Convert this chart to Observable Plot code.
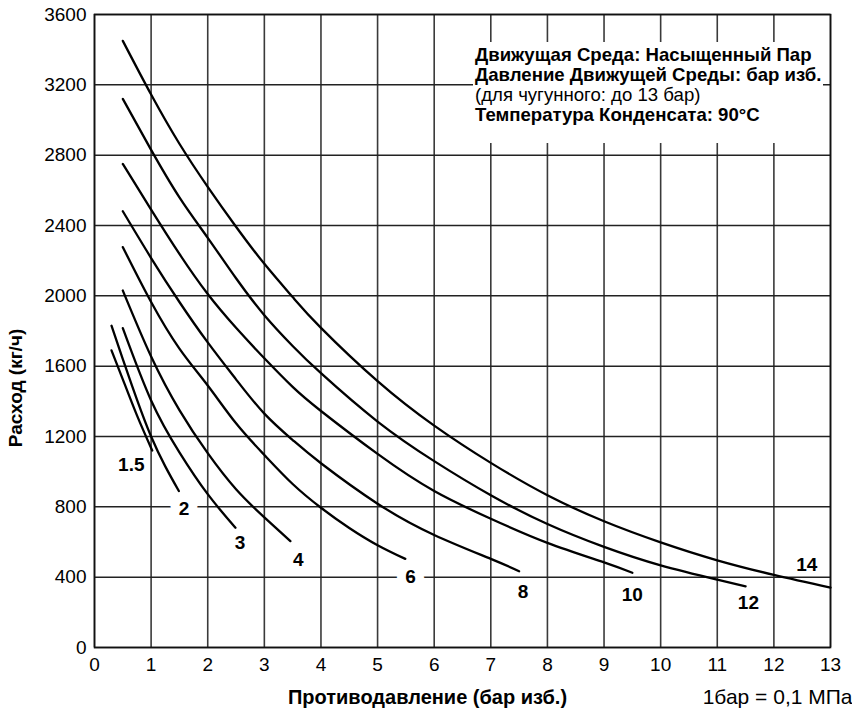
<!DOCTYPE html>
<html>
<head>
<meta charset="utf-8">
<script src="https://cdn.jsdelivr.net/npm/d3@7"></script>
<script src="https://cdn.jsdelivr.net/npm/@observablehq/plot@0.6"></script>
<style>
  html, body { margin: 0; padding: 0; background: #fff; }
  #wrap { position: relative; width: 852px; height: 716px; font-family: "Liberation Sans", Arial, sans-serif; }
  #note { position: absolute; left: 473px; top: 42px; width: 350px; height: 101px; background: #fff;
          box-sizing: border-box; padding: 3px 0 0 2px; font-size: 18.6px; line-height: 20px; color: #000; white-space: nowrap; }
  #note b { font-weight: bold; }
</style>
</head>
<body>
<div id="wrap">
  <div id="note">
    <div><b>Движущая Среда: Насыщенный Пар</b></div>
    <div><b>Давление Движущей Среды: бар изб.</b></div>
    <div>(для чугунного: до 13 бар)</div>
    <div><b>Температура Конденсата: 90°C</b></div>
  </div>
</div>
<script>
// ---- data ----
const xTicks = [0, 1, 2, 3, 4, 5, 6, 7, 8, 9, 10, 11, 12, 13];
const yTicks = [0, 400, 800, 1200, 1600, 2000, 2400, 2800, 3200, 3600];

const seriesNames = ["1.5", "2", "3", "4", "6", "8", "10", "12", "14"];

const x_1_5 = [0.3, 0.5, 0.75, 1.02];
const y_1_5 = [1690, 1525, 1320, 1120];

const x_2 = [0.3, 0.5, 0.75, 1.0, 1.25, 1.49];
const y_2 = [1830, 1640, 1410, 1200, 1030, 890];

const x_3 = [0.5, 1.0, 1.5, 2.0, 2.49];
const y_3 = [1816, 1405, 1110, 872, 681];

const x_4 = [0.5, 1.0, 1.5, 2.0, 2.5, 3.0, 3.46];
const y_4 = [2030, 1655, 1350, 1105, 900, 740, 605];

const x_6 = [0.5, 1.0, 1.5, 2.0, 2.5, 3.0, 3.5, 4.0, 4.5, 5.0, 5.49];
const y_6 = [2277, 1965, 1700, 1490, 1275, 1095, 930, 795, 680, 582, 504];

const x_8 = [0.5, 1.0, 1.5, 2.0, 2.5, 3.0, 3.5, 4.0, 5.0, 6.0, 7.0, 7.5];
const y_8 = [2481, 2215, 1965, 1735, 1525, 1330, 1180, 1048, 818, 640, 504, 434];

const x_10 = [0.5, 1.0, 1.5, 2.0, 2.5, 3.0, 3.5, 4.0, 5.0, 6.0, 7.0, 8.0, 9.0, 9.5];
const y_10 = [2750, 2490, 2238, 2010, 1818, 1645, 1482, 1345, 1101, 890, 732, 595, 484, 425];

const x_12 = [0.5, 1.0, 1.5, 2.0, 2.5, 3.0, 3.5, 4.0, 5.0, 6.0, 7.0, 8.0, 9.0, 10.0, 11.0, 11.5];
const y_12 = [3120, 2830, 2560, 2330, 2100, 1890, 1715, 1560, 1285, 1060, 866, 702, 572, 467, 386, 348];

const x_14 = [0.5, 1.0, 1.5, 2.0, 2.5, 3.0, 3.5, 4.0, 5.0, 6.0, 7.0, 8.0, 9.0, 10.0, 11.0, 12.0, 13.0];
const y_14 = [3450, 3145, 2865, 2620, 2393, 2182, 1993, 1818, 1515, 1262, 1050, 866, 718, 598, 496, 413, 341];

// curve labels (position in chart units)
const labelText = ["1.5", "2", "3", "4", "6", "8", "10", "12", "14"];
const labelX = [0.65, 1.58, 2.57, 3.6, 5.58, 7.57, 9.5, 11.55, 12.58];
const labelY = [1041, 790, 594, 500, 400, 318, 301, 253, 472];

const xTitle = "Противодавление (бар изб.)";
const yTitle = "Расход (кг/ч)";
const unitNote = "1бар = 0,1 МПа";

// ---- build tables ----
const xs = [x_1_5, x_2, x_3, x_4, x_6, x_8, x_10, x_12, x_14];
const ys = [y_1_5, y_2, y_3, y_4, y_6, y_8, y_10, y_12, y_14];
const rows = [];
seriesNames.forEach((s, i) => xs[i].forEach((x, j) => rows.push({series: s, x, y: ys[i][j]})));
const labels = labelText.map((t, i) => ({text: t, x: labelX[i], y: labelY[i]}));
const haloLabels = labels.filter(d => d.text === "2" || d.text === "6");

const font = "Liberation Sans, Arial, sans-serif";

const chart = Plot.plot({
  width: 852,
  height: 716,
  marginLeft: 94,
  marginRight: 22,
  marginTop: 14,
  marginBottom: 69,
  style: {fontFamily: font, fontSize: "19px", color: "#000", background: "#fff", overflow: "visible"},
  x: {domain: [0, 13]},
  y: {domain: [0, 3600]},
  marks: [
    Plot.gridX(xTicks, {stroke: "#3a3a3a", strokeOpacity: 1, strokeWidth: 1.6}),
    Plot.gridY(yTicks, {stroke: "#222", strokeOpacity: 1, strokeWidth: 1.5}),
    Plot.frame({stroke: "#111", strokeWidth: 1.6}),
    Plot.axisX(xTicks, {tickSize: 0, tickPadding: 10, fontSize: 19, label: null, fill: "#000", tickFormat: d => String(d)}),
    Plot.axisY(yTicks, {tickSize: 0, tickPadding: 8, fontSize: 19, label: null, fill: "#000", tickFormat: d => String(d)}),
    Plot.text(haloLabels, {x: "x", y: "y", text: "text", fontSize: 19, fontWeight: "bold",
      fill: "#fff", stroke: "#fff", strokeWidth: 18, strokeLinejoin: "round"}),
    Plot.text(labels, {x: "x", y: "y", text: "text", fontSize: 19, fontWeight: "bold", fill: "#000"}),
    Plot.line(rows, {x: "x", y: "y", z: "series", curve: "natural", stroke: "#000", strokeWidth: 2.3}),
    Plot.text([xTitle], {frameAnchor: "bottom-left", textAnchor: "middle", dx: 333, dy: 56, fontSize: 20, fontWeight: "bold", fill: "#000"}),
    Plot.text([unitNote], {frameAnchor: "bottom-right", textAnchor: "end", dx: 22, dy: 56, fontSize: 21, fill: "#000"}),
    Plot.text([yTitle], {frameAnchor: "left", textAnchor: "middle", rotate: -90, dx: -79, dy: 57, fontSize: 19, fontWeight: "bold", fill: "#000"})
  ]
});

const wrap = document.getElementById("wrap");
wrap.insertBefore(chart, wrap.firstChild);
chart.style.position = "absolute";
chart.style.left = "0";
chart.style.top = "0";
</script>
</body>
</html>
